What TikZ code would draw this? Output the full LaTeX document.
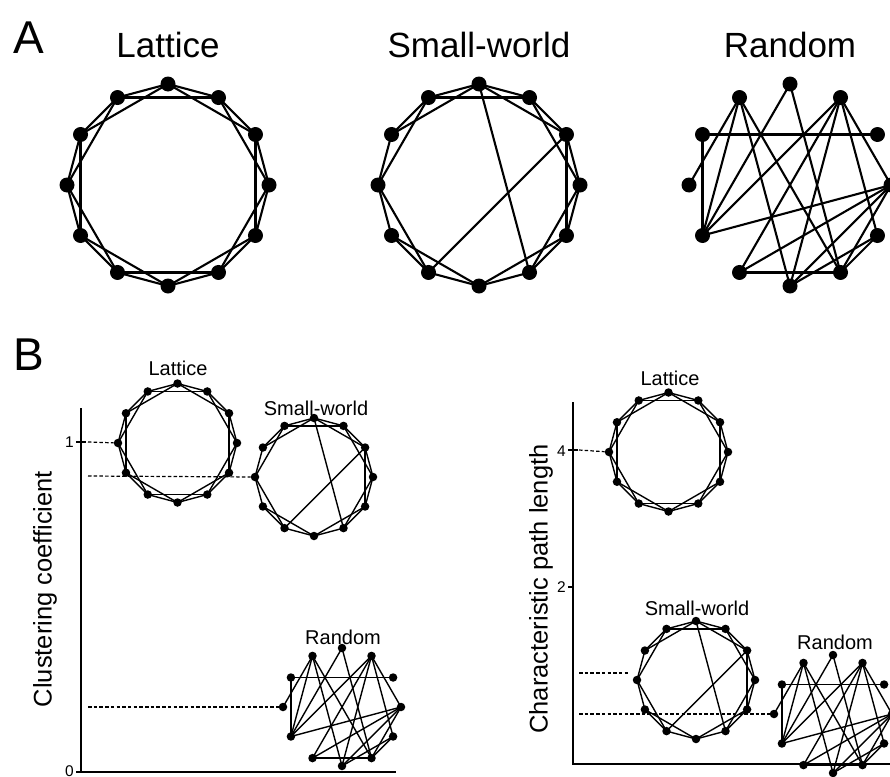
\documentclass[tikz,border=0pt]{standalone}
\usepackage{fontspec}
\setmainfont{Liberation Sans}
\begin{document}
\begin{tikzpicture}[x=1pt,y=-1pt,
  bigdot/.style={circle,fill=black,inner sep=0pt,minimum size=15pt},
  smalldot/.style={circle,fill=black,inner sep=0pt,minimum size=8.5pt},
  bigedge/.style={line width=2.1pt},
  smalledge/.style={line width=1.4pt},
  axis/.style={line width=1.4pt},
  guide/.style={line width=1.2pt,dash pattern=on 3.5pt off 2.2pt},
  panel/.style={font=\fontsize{46}{46}\selectfont,anchor=center},
  bigtitle/.style={font=\fontsize{35}{35}\selectfont,anchor=center},
  smalltitle/.style={font=\fontsize{20}{20}\selectfont,anchor=center},
  ticklabel/.style={font=\fontsize{15.5}{15.5}\selectfont,anchor=east,inner sep=1pt},
  axislabel/.style={font=\fontsize{25.5}{25.5}\selectfont,rotate=90,anchor=center}]
\useasboundingbox (0,0) rectangle (890,776);
\clip (0,0) rectangle (890,776);

% #1 name prefix, #2 centre x, #3 centre y, #4 radius, #5 dot style, #6 edge style, #7 edge list macro
\newcommand\netgraph[7]{%
  \foreach \k in {0,...,11}
    \node[#5] (#1\k) at ({#2+#4*sin(30*\k)},{#3-#4*cos(30*\k)}) {};
  \foreach \a/\b in #7
    \draw[#6] (#1\a.center) -- (#1\b.center);
}
\def\latticeedges{0/1,1/2,2/3,3/4,4/5,5/6,6/7,7/8,8/9,9/10,10/11,11/0,
  0/2,1/3,2/4,3/5,4/6,5/7,6/8,7/9,8/10,9/11,10/0,11/1}
\def\swedges{0/1,1/2,2/3,3/4,4/5,5/6,6/7,7/8,8/9,9/10,10/11,11/0,
  0/2,1/3,2/4,3/5,4/6,6/8,7/9,9/11,10/0,11/1,0/5,2/7}
\def\randedges{10/2,10/8,11/9,11/8,11/6,11/5,0/8,0/5,1/8,1/7,1/6,1/4,1/3,
  3/8,3/7,3/6,3/5,4/6,4/5,7/5}

% ---------- panel A ----------
\node[panel] (labA) at (29,38) {A};
\node[bigtitle] (tA1) at (168,45) {Lattice};
\node[bigtitle] (tA2) at (479,45) {Small-world};
\node[bigtitle] (tA3) at (790,45) {Random};
\netgraph{la}{168}{185}{101}{bigdot}{bigedge}{\latticeedges}
\netgraph{sa}{479}{185}{101}{bigdot}{bigedge}{\swedges}
\netgraph{ra}{790}{185}{101}{bigdot}{bigedge}{\randedges}

% ---------- panel B ----------
\node[panel] (labB) at (29,355) {B};

% clustering coefficient axes
\coordinate (cTop) at (81,408);
\coordinate (cOrg) at (81,772);
\coordinate (cEnd) at (396,772);
\draw[axis] (cTop) -- (cOrg) -- (cEnd);
\draw[axis] (76,442) -- (86,442);
\node[ticklabel] (c1) at (75,442) {1};
\draw[axis] (76,772) -- (81,772);
\node[ticklabel] (c0) at (75,771) {0};
\node[axislabel] (cLab) at (45,589) {Clustering coefficient};

\node[smalltitle] (tBl) at (178,368) {Lattice};
\node[smalltitle] (tBs) at (316,408) {Small-world};
\node[smalltitle] (tBr) at (343,637) {Random};
\netgraph{lb}{177.5}{443}{59.5}{smalldot}{smalledge}{\latticeedges}
\netgraph{sb}{314}{477}{59}{smalldot}{smalledge}{\swedges}
\netgraph{rb}{342}{707}{59}{smalldot}{smalledge}{\randedges}
\coordinate (cg1) at (88,442);
\coordinate (cg2) at (88,476);
\coordinate (cg3) at (88,707);
\draw[guide] (cg1) -- (lb9);
\draw[guide] (cg2) -- (sb9);
\draw[guide] (cg3) -- (rb9);

% characteristic path length axes
\coordinate (pTop) at (573,402);
\coordinate (pOrg) at (573,764);
\coordinate (pEnd) at (890,764);
\draw[axis] (pTop) -- (pOrg) -- (pEnd);
\draw[axis] (568,450) -- (578,450);
\node[ticklabel] (p4) at (567,451) {4};
\draw[axis] (568,587) -- (573,587);
\node[ticklabel] (p2) at (567,587) {2};
\node[axislabel] (pLab) at (541,589) {Characteristic path length};

\node[smalltitle] (tBl2) at (670,378) {Lattice};
\node[smalltitle] (tBs2) at (697,608) {Small-world};
\node[smalltitle] (tBr2) at (835,642) {Random};
\netgraph{lc}{668.5}{452}{59.5}{smalldot}{smalledge}{\latticeedges}
\netgraph{sc}{696}{680}{59}{smalldot}{smalledge}{\swedges}
\netgraph{rc}{833}{714}{59}{smalldot}{smalledge}{\randedges}
\coordinate (pg1) at (579,450);
\coordinate (pg2) at (579,673);
\coordinate (pg2e) at (628,673);
\coordinate (pg3) at (579,714);
\draw[guide] (pg1) -- (lc9);
\draw[guide] (pg2) -- (pg2e);
\draw[guide] (pg3) -- (rc9);
\end{tikzpicture}
\end{document}
